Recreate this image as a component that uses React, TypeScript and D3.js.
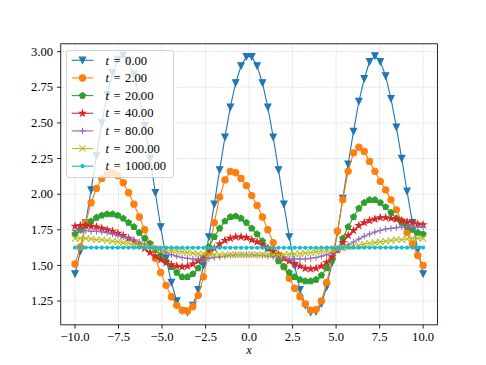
import React from 'react'
import * as d3 from 'd3'

const xs = [-10.000, -9.692, -9.385, -9.077, -8.769, -8.462, -8.154, -7.846, -7.538, -7.231, -6.923, -6.615, -6.308, -6.000, -5.692, -5.385, -5.077, -4.769, -4.462, -4.154, -3.846, -3.538, -3.231, -2.923, -2.615, -2.308, -2.000, -1.692, -1.385, -1.077, -0.769, -0.462, -0.154, 0.154, 0.462, 0.769, 1.077, 1.385, 1.692, 2.000, 2.308, 2.615, 2.923, 3.231, 3.538, 3.846, 4.154, 4.462, 4.769, 5.077, 5.385, 5.692, 6.000, 6.308, 6.615, 6.923, 7.231, 7.538, 7.846, 8.154, 8.462, 8.769, 9.077, 9.385, 9.692, 10.000]

const t0 = [1.44, 1.60, 1.80, 2.03, 2.27, 2.50, 2.70, 2.85, 2.945, 2.975,
  2.94, 2.84, 2.68, 2.48, 2.25, 2.01, 1.77, 1.55, 1.38, 1.25,
  1.18, 1.17, 1.22, 1.33, 1.50, 1.70, 1.93, 2.17, 2.40, 2.61,
  2.78, 2.90, 2.965, 2.965, 2.90, 2.78, 2.61, 2.40, 2.17, 1.93,
  1.70, 1.50, 1.33, 1.22, 1.17, 1.175, 1.23, 1.35, 1.52, 1.73,
  1.97, 2.21, 2.44, 2.65, 2.81, 2.93, 2.97, 2.93, 2.83, 2.67,
  2.47, 2.25, 2.02, 1.80, 1.61, 1.44]

const t2 = [1.51, 1.63, 1.80, 1.94, 2.04, 2.11, 2.14, 2.15, 2.13, 2.08,
  2.01, 1.93, 1.84, 1.75, 1.65, 1.55, 1.45, 1.36, 1.28, 1.22,
  1.185, 1.18, 1.21, 1.29, 1.42, 1.60, 1.80, 1.98, 2.10, 2.16,
  2.15, 2.11, 2.06, 1.99, 1.92, 1.84, 1.75, 1.66, 1.57, 1.49,
  1.41, 1.34, 1.28, 1.23, 1.185, 1.19, 1.25, 1.38, 1.55, 1.74,
  1.96, 2.16, 2.29, 2.33, 2.30, 2.23, 2.16, 2.09, 2.03, 1.96,
  1.89, 1.81, 1.73, 1.65, 1.57, 1.50]

const t20 = [1.72, 1.75, 1.78, 1.81, 1.835, 1.85, 1.86, 1.86, 1.85, 1.83,
  1.80, 1.77, 1.73, 1.69, 1.65, 1.61, 1.57, 1.53, 1.49, 1.45,
  1.42, 1.42, 1.44, 1.48, 1.55, 1.63, 1.70, 1.76, 1.81, 1.84,
  1.845, 1.83, 1.80, 1.76, 1.72, 1.67, 1.62, 1.58, 1.53, 1.49,
  1.45, 1.42, 1.40, 1.39, 1.39, 1.40, 1.43, 1.48, 1.54, 1.61,
  1.69, 1.77, 1.84, 1.90, 1.94, 1.96, 1.96, 1.94, 1.91, 1.87,
  1.83, 1.80, 1.77, 1.75, 1.73, 1.72]

const t40 = [1.775, 1.78, 1.78, 1.775, 1.77, 1.76, 1.75, 1.74, 1.725, 1.71,
  1.69, 1.67, 1.645, 1.62, 1.59, 1.565, 1.54, 1.52, 1.505, 1.495,
  1.49, 1.495, 1.51, 1.53, 1.56, 1.59, 1.62, 1.65, 1.675, 1.69,
  1.70, 1.70, 1.695, 1.68, 1.665, 1.645, 1.62, 1.60, 1.575, 1.55,
  1.53, 1.51, 1.495, 1.48, 1.475, 1.48, 1.495, 1.52, 1.56, 1.61,
  1.66, 1.71, 1.745, 1.78, 1.80, 1.815, 1.825, 1.835, 1.835, 1.83,
  1.825, 1.815, 1.805, 1.80, 1.79, 1.785]

const t80 = [1.745, 1.745, 1.745, 1.74, 1.74, 1.735, 1.73, 1.72, 1.71, 1.70,
  1.69, 1.68, 1.665, 1.65, 1.635, 1.62, 1.605, 1.59, 1.575, 1.565,
  1.555, 1.55, 1.545, 1.545, 1.545, 1.55, 1.555, 1.56, 1.565, 1.57,
  1.575, 1.575, 1.575, 1.575, 1.57, 1.57, 1.565, 1.56, 1.555, 1.55,
  1.545, 1.545, 1.545, 1.545, 1.55, 1.555, 1.565, 1.575, 1.59, 1.605,
  1.625, 1.645, 1.665, 1.685, 1.705, 1.72, 1.735, 1.745, 1.755, 1.76,
  1.765, 1.77, 1.77, 1.77, 1.77, 1.77]

const t200 = [1.69, 1.69, 1.69, 1.685, 1.68, 1.68, 1.675, 1.67, 1.665, 1.66,
  1.655, 1.65, 1.64, 1.635, 1.63, 1.62, 1.615, 1.61, 1.605, 1.60,
  1.595, 1.59, 1.585, 1.58, 1.58, 1.578, 1.575, 1.575, 1.575, 1.575,
  1.575, 1.575, 1.575, 1.575, 1.575, 1.575, 1.575, 1.575, 1.575, 1.575,
  1.578, 1.58, 1.582, 1.585, 1.59, 1.595, 1.60, 1.605, 1.61, 1.615,
  1.62, 1.63, 1.635, 1.64, 1.65, 1.655, 1.66, 1.665, 1.67, 1.675,
  1.68, 1.68, 1.685, 1.69, 1.69, 1.69]

const t1000 = [1.625, 1.625, 1.625, 1.625, 1.625, 1.625, 1.625, 1.625, 1.625, 1.625,
  1.625, 1.625, 1.625, 1.625, 1.625, 1.625, 1.625, 1.625, 1.625, 1.625,
  1.624, 1.624, 1.624, 1.624, 1.624, 1.624, 1.624, 1.624, 1.624, 1.624,
  1.624, 1.624, 1.624, 1.624, 1.624, 1.624, 1.624, 1.624, 1.624, 1.624,
  1.624, 1.624, 1.624, 1.624, 1.624, 1.624, 1.625, 1.625, 1.625, 1.625,
  1.625, 1.625, 1.625, 1.625, 1.625, 1.625, 1.625, 1.625, 1.625, 1.625,
  1.625, 1.625, 1.625, 1.625, 1.625, 1.625]

const series = [t0, t2, t20, t40, t80, t200, t1000]
const labels = ['0.00', '2.00', '20.00', '40.00', '80.00', '200.00', '1000.00']
const colors = ['#1f77b4', '#ff7f0e', '#2ca02c', '#d62728', '#9467bd', '#bcbd22', '#17becf']
const markers = ['v', 'o', 'p', '*', '+', 'x', '.']
const xTicks = [-10, -7.5, -5, -2.5, 0, 2.5, 5, 7.5, 10]
const yTicks = [1.25, 1.5, 1.75, 2.0, 2.25, 2.5, 2.75, 3.0]

const W = 486
const H = 365
const left = 60.75
const right = 437.4
const top = 43.8
const bottom = 324.85
const R = 3.17
const font = "'Liberation Serif', 'DejaVu Serif', serif"
const fs = 12.6

function polyPath(n, r, inner) {
  const pts = []
  const k = inner ? n * 2 : n
  for (let i = 0; i < k; i++) {
    const a = -Math.PI / 2 + (i * 2 * Math.PI) / k
    const rr = inner && i % 2 === 1 ? r * inner : r
    pts.push([rr * Math.cos(a), rr * Math.sin(a)])
  }
  return 'M' + pts.map(p => p[0].toFixed(2) + ',' + p[1].toFixed(2)).join('L') + 'Z'
}

function Marker({ m, x, y, c }) {
  const t = `translate(${x},${y})`
  if (m === 'o') return <circle cx={x} cy={y} r={R} fill={c} stroke={c} strokeWidth={1.05} />
  if (m === '.') return <circle cx={x} cy={y} r={R / 2} fill={c} stroke={c} strokeWidth={1.05} />
  if (m === 'v')
    return <path transform={t} d={`M${-R},${-R}L${R},${-R}L0,${R}Z`} fill={c} stroke={c} strokeWidth={1.05} strokeLinejoin="miter" />
  if (m === 'p') return <path transform={t} d={polyPath(5, R)} fill={c} stroke={c} strokeWidth={1.05} />
  if (m === '*') return <path transform={t} d={polyPath(5, R, 0.381966)} fill={c} stroke={c} strokeWidth={1.05} />
  if (m === '+') return <path transform={t} d={`M${-R},0H${R}M0,${-R}V${R}`} fill="none" stroke={c} strokeWidth={1.05} />
  return <path transform={t} d={`M${-R},${-R}L${R},${R}M${-R},${R}L${R},${-R}`} fill="none" stroke={c} strokeWidth={1.05} />
}

export default function App() {
  const x = d3.scaleLinear().domain([-10.82, 10.82]).range([left, right])
  const y = d3.scaleLinear().domain([1.083, 3.055]).range([bottom, top])
  const line = d3.line().x((d, i) => x(xs[i])).y(d => y(d))
  const fx = d3.format('.1f')
  const fy = d3.format('.2f')

  const legX = 66.5
  const legY = 50.5
  const rowY = i => 60.3 + i * 17.65

  return (
    <div style={{ position: 'absolute', left: 0, top: 0 }}>
      <svg width={W} height={H} style={{ display: 'block', background: '#fff' }} fontFamily={font}>
        <rect x={0} y={0} width={W} height={H} fill="#fff" />
        {/* grid */}
        <g stroke="#b0b0b0" strokeWidth={0.8} strokeDasharray="1,1.5" opacity={0.7}>
          {xTicks.map(t => (
            <line key={'gx' + t} x1={x(t)} x2={x(t)} y1={top} y2={bottom} />
          ))}
          {yTicks.map(t => (
            <line key={'gy' + t} x1={left} x2={right} y1={y(t)} y2={y(t)} />
          ))}
        </g>
        {/* series */}
        {series.map((s, k) => (
          <g key={k}>
            <path d={line(s)} fill="none" stroke={colors[k]} strokeWidth={1.1} />
            {s.map((v, i) => (
              <Marker key={i} m={markers[k]} x={x(xs[i])} y={y(v)} c={colors[k]} />
            ))}
          </g>
        ))}
        {/* frame */}
        <rect x={left} y={top} width={right - left} height={bottom - top} fill="none" stroke="#000" strokeWidth={0.85} />
        {/* ticks */}
        <g stroke="#000" strokeWidth={0.85}>
          {xTicks.map(t => (
            <line key={'tx' + t} x1={x(t)} x2={x(t)} y1={bottom} y2={bottom + 3.7} />
          ))}
          {yTicks.map(t => (
            <line key={'ty' + t} x1={left - 3.7} x2={left} y1={y(t)} y2={y(t)} />
          ))}
        </g>
        <g fontSize={fs} fill="#000">
          {xTicks.map(t => (
            <text key={'lx' + t} x={x(t)} y={340.5} textAnchor="middle">
              {fx(t)}
            </text>
          ))}
          {yTicks.map(t => (
            <text key={'ly' + t} x={left - 7.6} y={y(t) + 4.2} textAnchor="end">
              {fy(t)}
            </text>
          ))}
          <text x={(left + right) / 2} y={354} textAnchor="middle" fontStyle="italic">
            x
          </text>
        </g>
        {/* legend */}
        <rect x={legX} y={legY} width={107} height={127} rx={2.5} fill="#fff" fillOpacity={0.8} stroke="#cccccc" strokeWidth={0.85} />
        {labels.map((l, i) => (
          <g key={'leg' + i}>
            <line x1={71.7} x2={93.3} y1={rowY(i)} y2={rowY(i)} stroke={colors[i]} strokeWidth={1.1} />
            <Marker m={markers[i]} x={82.5} y={rowY(i)} c={colors[i]} />
            <text x={105.5} y={rowY(i) + 4.2} fontSize={fs}>
              <tspan fontStyle="italic">t</tspan>
              <tspan dx={4.5}>=</tspan>
              <tspan dx={4.5}>{l}</tspan>
            </text>
          </g>
        ))}
      </svg>
    </div>
  )
}
